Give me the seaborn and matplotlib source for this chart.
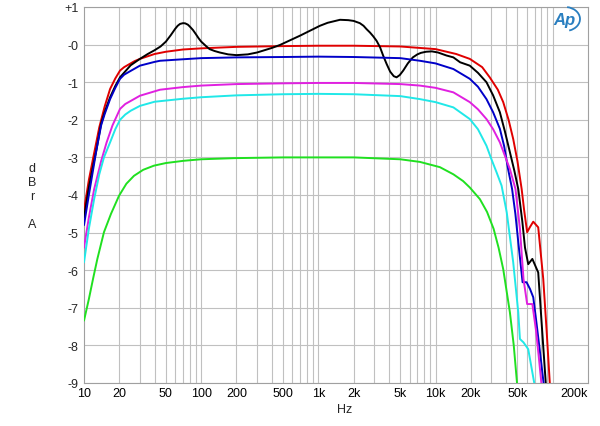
import matplotlib
matplotlib.use("Agg")
import matplotlib.pyplot as plt
from matplotlib.patches import Arc
import seaborn as sns
import pandas as pd
import numpy as np

# ---- data ----
red_f = [10, 11, 12, 12.4, 13.5, 15, 16.7, 18.5, 20.3, 22, 25, 27, 30, 40, 50, 70, 100, 200, 500, 1000, 2000,
         5000, 10000, 15000, 19600, 25000, 29000, 34000, 37800, 42000, 46000, 50000, 54300, 57000,
         60500, 64000, 68200, 75200, 83000, 88500, 94700, 96000]
red_db = [-4.4, -3.6, -3.0, -2.78, -2.2, -1.65, -1.18, -0.9, -0.69, -0.6, -0.5, -0.44, -0.38, -0.25, -0.19,
          -0.13, -0.10, -0.06, -0.04, -0.03, -0.03, -0.05, -0.12, -0.25, -0.38, -0.6, -0.87, -1.2, -1.53,
          -2.0, -2.51, -3.1, -3.84, -4.4, -4.99, -4.85, -4.71, -4.86, -6.23, -7.56, -9.07, -9.5]

black_f = [10, 11, 12, 12.8, 14, 15, 16.7, 18.5, 20.3, 25, 30, 35, 40, 45, 50, 55, 60, 63, 66, 70, 73, 77, 80,
           85, 90, 95, 100, 110, 118, 130, 144, 170, 200, 250, 300, 400, 470, 700, 1030, 1200, 1530, 1800,
           2000, 2260, 2430, 2580, 2760, 2940, 3140, 3360, 3580, 3830, 4100, 4400, 4650, 4950, 5300, 5800,
           6400, 7000, 7500, 8300, 9300, 10500, 12400, 14200, 16200, 19600, 23000, 27200, 31000, 35400,
           39000, 43100, 47000, 50800, 55000, 58000, 61800, 67000, 75200, 80000, 87500, 89000]
black_db = [-4.6, -3.8, -3.2, -2.78, -2.1, -1.8, -1.4, -1.1, -0.87, -0.55, -0.38, -0.25, -0.15, -0.05, 0.08,
            0.25, 0.42, 0.5, 0.55, 0.57, 0.565, 0.53, 0.48, 0.39, 0.28, 0.17, 0.08, -0.04, -0.12, -0.17,
            -0.21, -0.26, -0.28, -0.26, -0.21, -0.09, -0.01, 0.24, 0.50, 0.58, 0.66, 0.65, 0.63, 0.57, 0.5,
            0.41, 0.32, 0.22, 0.10, -0.07, -0.3, -0.52, -0.72, -0.84, -0.87, -0.81, -0.69, -0.5, -0.34,
            -0.26, -0.22, -0.19, -0.18, -0.21, -0.29, -0.34, -0.47, -0.56, -0.75, -1.0, -1.35, -1.80, -2.3,
            -2.86, -3.35, -3.84, -4.7, -5.4, -5.84, -5.70, -6.06, -7.3, -9.07, -9.5]

blue_f = [10, 11, 12, 12.8, 14, 15, 16.7, 18.5, 20.3, 22, 25, 30, 40, 44.5, 70, 100, 200, 500, 1000, 2000,
          5000, 7360, 10000, 14200, 19600, 23000, 27200, 31000, 35400, 38500, 41600, 45000, 48000, 51000,
          55300, 59800, 64000, 68200, 72000, 78000, 84100, 86000]
blue_db = [-4.8, -4.0, -3.3, -2.78, -2.15, -1.85, -1.45, -1.15, -0.91, -0.8, -0.7, -0.56, -0.46, -0.43,
           -0.39, -0.36, -0.34, -0.33, -0.32, -0.33, -0.36, -0.43, -0.5, -0.65, -0.91, -1.12, -1.45, -1.8,
           -2.24, -2.7, -3.31, -3.84, -4.5, -5.3, -6.32, -6.32, -6.5, -6.72, -7.3, -8.2, -9.07, -9.5]

magenta_f = [10, 11, 12.2, 14, 15.6, 17.5, 20.3, 22.5, 25, 30, 44.5, 70, 100, 200, 500, 1000, 2000, 5000,
             7360, 10000, 14200, 19600, 23000, 27200, 31000, 35400, 39000, 43100, 48100, 52500, 56300,
             60500, 67000, 72000, 76000, 80400, 82000]
magenta_db = [-5.4, -4.6, -3.85, -3.1, -2.6, -2.15, -1.71, -1.58, -1.5, -1.36, -1.2, -1.13, -1.09, -1.05,
              -1.03, -1.02, -1.02, -1.05, -1.09, -1.15, -1.27, -1.53, -1.72, -1.98, -2.25, -2.60, -2.95,
              -3.31, -3.84, -4.9, -6.23, -6.9, -6.9, -7.6, -8.3, -9.07, -9.5]

cyan_f = [10, 11, 12.2, 13.5, 14.8, 16.7, 18.5, 20.3, 22.5, 25, 30, 40, 70, 100, 200, 500, 1000, 2000, 5000,
          7360, 10000, 14200, 19600, 23000, 27200, 30000, 33200, 36600, 40500, 46000, 50800, 52500, 56300,
          61800, 66000, 70200, 72000]
cyan_db = [-5.79, -4.9, -4.11, -3.45, -3.0, -2.6, -2.25, -2.0, -1.86, -1.76, -1.63, -1.52, -1.44, -1.40,
           -1.35, -1.32, -1.31, -1.32, -1.37, -1.45, -1.53, -1.67, -1.98, -2.25, -2.69, -3.05, -3.40, -3.75,
           -4.46, -5.79, -7.12, -7.83, -7.92, -8.10, -8.6, -9.07, -9.5]

green_f = [10, 11, 12, 13, 14.8, 17, 19.9, 23, 26.7, 32, 39.5, 50, 71, 100, 190, 500, 1000, 2000, 5000, 7360,
           10900, 14200, 17200, 19600, 23900, 27500, 31300, 34500, 37800, 43100, 46500, 49800, 51000]
green_db = [-7.34, -6.77, -6.2, -5.7, -4.99, -4.5, -4.02, -3.7, -3.49, -3.33, -3.22, -3.15, -3.09, -3.05,
            -3.02, -3.0, -3.0, -3.0, -3.05, -3.12, -3.26, -3.45, -3.63, -3.80, -4.11, -4.45, -4.90, -5.4,
            -5.97, -7.12, -8.0, -9.07, -9.5]

series_names = ["red", "black", "blue", "magenta", "cyan", "green"]
series_colors = ["#e00000", "#000000", "#0000c8", "#e020e0", "#20e8e8", "#20e020"]

x_ticks = [10, 20, 50, 100, 200, 500, 1000, 2000, 5000, 10000, 20000, 50000, 200000]
x_labels = ["10", "20", "50", "100", "200", "500", "1k", "2k", "5k", "10k", "20k", "50k", "200k"]
y_ticks = [1, 0, -1, -2, -3, -4, -5, -6, -7, -8, -9]
y_labels = ["+1", "-0", "-1", "-2", "-3", "-4", "-5", "-6", "-7", "-8", "-9"]

# ---- build long-form table ----
freqs = [red_f, black_f, blue_f, magenta_f, cyan_f, green_f]
dbs = [red_db, black_db, blue_db, magenta_db, cyan_db, green_db]
frames = []
for name, f, d in zip(series_names, freqs, dbs):
    frames.append(pd.DataFrame({"freq": f, "db": d, "series": name}))
df = pd.concat(frames, ignore_index=True)

sns.set_style("white")
plt.rcParams["font.family"] = ["Liberation Sans", "DejaVu Sans"]

fig = plt.figure(figsize=(6.0, 4.27), dpi=100)
ax = fig.add_axes([84 / 600, 1 - 384 / 427, 504 / 600, 376 / 427])

# grid
grid_col = "#c0c0c0"
vlines = []
for dec in [10, 100, 1000, 10000, 100000]:
    for m in range(1, 10):
        v = dec * m
        if 10 < v < 200000:
            vlines.append(v)
for v in vlines:
    ax.axvline(v, color=grid_col, lw=0.8, zorder=0)
for yv in y_ticks:
    ax.axhline(yv, color=grid_col, lw=0.8, zorder=0)

sns.lineplot(data=df, x="freq", y="db", hue="series", hue_order=series_names,
             palette=dict(zip(series_names, series_colors)), estimator=None, sort=False,
             lw=1.4, legend=False, ax=ax, zorder=3)

ax.set_xscale("log")
ax.set_xlim(10, 200000)
ax.set_ylim(-9, 1)
ax.set_xticks(x_ticks)
ax.set_xticklabels(x_labels)
ax.xaxis.set_minor_locator(matplotlib.ticker.NullLocator())
ax.set_yticks(y_ticks)
ax.set_yticklabels(y_labels)
ax.set_yticks(np.arange(-9, 1.001, 0.1), minor=True)
ax.tick_params(axis="x", length=0, pad=3, labelsize=9, colors="#000000")
ax.tick_params(axis="y", which="major", length=0, pad=4, labelsize=9)
ax.tick_params(axis="y", which="minor", direction="in", length=4, color="#a8a8a8", width=0.5)
xl = ax.get_xticklabels()
xl[-1].set_horizontalalignment("right")
ax.set_xlabel("")
ax.set_ylabel("")
for s in ax.spines.values():
    s.set_color("#a0a0a0")
    s.set_linewidth(0.8)

fig.text(345 / 600, 1 - 410 / 427, "Hz", ha="center", va="center", fontsize=9)
fig.text(32 / 600, 1 - 197 / 427, "d\nB\nr\n\nA", ha="center", va="center", fontsize=9, linespacing=1.25)
fig.text(564 / 600, 1 - 20 / 427, "Ap", ha="center", va="center", color="#2a7fc0", fontsize=12,
         fontweight="bold", fontstyle="italic")
fig.patches.append(Arc((565, 427 - 20), 30, 24, theta1=-70, theta2=80, transform=None,
                       color="#2a7fc0", lw=1.3))

fig.savefig("out.png", dpi=100)
